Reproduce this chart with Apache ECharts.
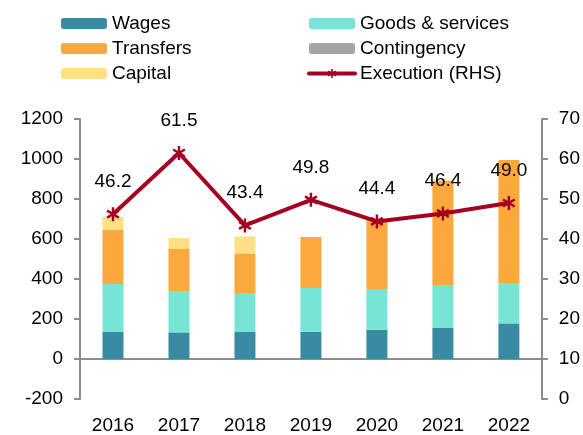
<!DOCTYPE html>
<html>
<head>
<meta charset="utf-8">
<script src="https://cdn.jsdelivr.net/npm/echarts@6/dist/echarts.min.js"></script>
<style>
	html, body { margin: 0; padding: 0; background: #fff; }
	#chart { width: 583px; height: 435px; }
</style>
</head>
<body>
<div id="chart"></div>
<script>
var years = ['2016', '2017', '2018', '2019', '2020', '2021', '2022'];
var wages = [135, 133, 135, 136, 146, 155, 178];
var goods = [240, 207, 195, 219, 204, 215, 202];
var transfers = [271, 210, 198, 255, 350, 521, 615];
var contingency = [0, 0, 0, 0, 0, 0, 0];
var capital = [64, 55, 85, 0, 0, 0, 0];
var execution = [46.2, 61.5, 43.4, 49.8, 44.4, 46.4, 49.0];

// 星号标记
var starPath = 'path://M-1.8,-10L1.8,-10L1.8,10L-1.8,10Z' +
	'M-9.56,-3.44L-7.76,-6.56L9.56,3.44L7.76,6.56Z' +
	'M7.76,-6.56L9.56,-3.44L-7.76,6.56L-9.56,3.44Z';

var font = 'Liberation Sans, Arial, sans-serif';
var axisGray = '#8c8c8c';

function barSeries(name, data, color){
	return {
		name: name,
		type: 'bar',
		stack: 'total',
		barWidth: 21,
		data: data,
		itemStyle: { color: color },
		emphasis: { disabled: true }
	};
}

function plain(v){ return String(v); }

var chart = echarts.init(document.getElementById('chart'));
chart.setOption({
	animation: false,
	textStyle: { fontFamily: font, color: '#000' },
	grid: { left: 80, right: 41, top: 119, bottom: 36 },
	legend: [{
		orient: 'vertical',
		left: 56, top: 8,
		itemWidth: 46, itemHeight: 11, itemGap: 4,
		textStyle: { fontSize: 19, fontFamily: font, color: '#000', lineHeight: 21 },
		data: ['Wages', 'Transfers', 'Capital']
	}, {
		orient: 'vertical',
		left: 302, top: 8,
		itemWidth: 46, itemHeight: 11, itemGap: 4,
		textStyle: { fontSize: 19, fontFamily: font, color: '#000', lineHeight: 21 },
		data: ['Goods & services', 'Contingency', {
			name: 'Execution (RHS)',
			lineStyle: { width: 4, cap: 'round' }
		}]
	}],
	xAxis: [{
		type: 'category',
		data: years,
		position: 'bottom',
		axisLine: { show: false, onZero: false },
		axisTick: { show: false },
		axisLabel: { fontSize: 19, color: '#000', margin: 17 }
	}, {
		type: 'category',
		data: years,
		position: 'bottom',
		axisLine: { onZero: true, lineStyle: { color: axisGray, width: 2 } },
		axisTick: { length: 7, lineStyle: { color: axisGray, width: 2 } },
		axisLabel: { show: false }
	}],
	yAxis: [{
		type: 'value',
		min: -200, max: 1200, interval: 200,
		axisLine: { show: true, lineStyle: { color: axisGray, width: 2 } },
		axisTick: { show: true, length: 6, lineStyle: { color: axisGray, width: 2 } },
		splitLine: { show: false },
		axisLabel: { fontSize: 19, color: '#000', margin: 17, formatter: plain }
	}, {
		type: 'value',
		min: 0, max: 70, interval: 10,
		position: 'right',
		axisLine: { show: true, lineStyle: { color: axisGray, width: 2 } },
		axisTick: { show: true, length: 6, lineStyle: { color: axisGray, width: 2 } },
		splitLine: { show: false },
		axisLabel: { fontSize: 19, color: '#000', margin: 17, formatter: plain }
	}],
	series: [
		barSeries('Wages', wages, '#388ba3'),
		barSeries('Goods & services', goods, '#76e5d5'),
		barSeries('Transfers', transfers, '#fba93c'),
		barSeries('Contingency', contingency, '#a5a5a5'),
		barSeries('Capital', capital, '#ffe084'),
		{
			name: 'Execution (RHS)',
			type: 'line',
			yAxisIndex: 1,
			data: execution,
			symbol: starPath,
			symbolSize: [13, 14],
			itemStyle: { color: '#a50021' },
			lineStyle: { color: '#a50021', width: 4 },
			label: {
				show: true,
				position: 'top',
				distance: 16,
				fontSize: 19,
				color: '#000',
				formatter: function(p){ return p.value.toFixed(1); }
			},
			emphasis: { disabled: true },
			z: 5
		}
	]
});
</script>
</body>
</html>
